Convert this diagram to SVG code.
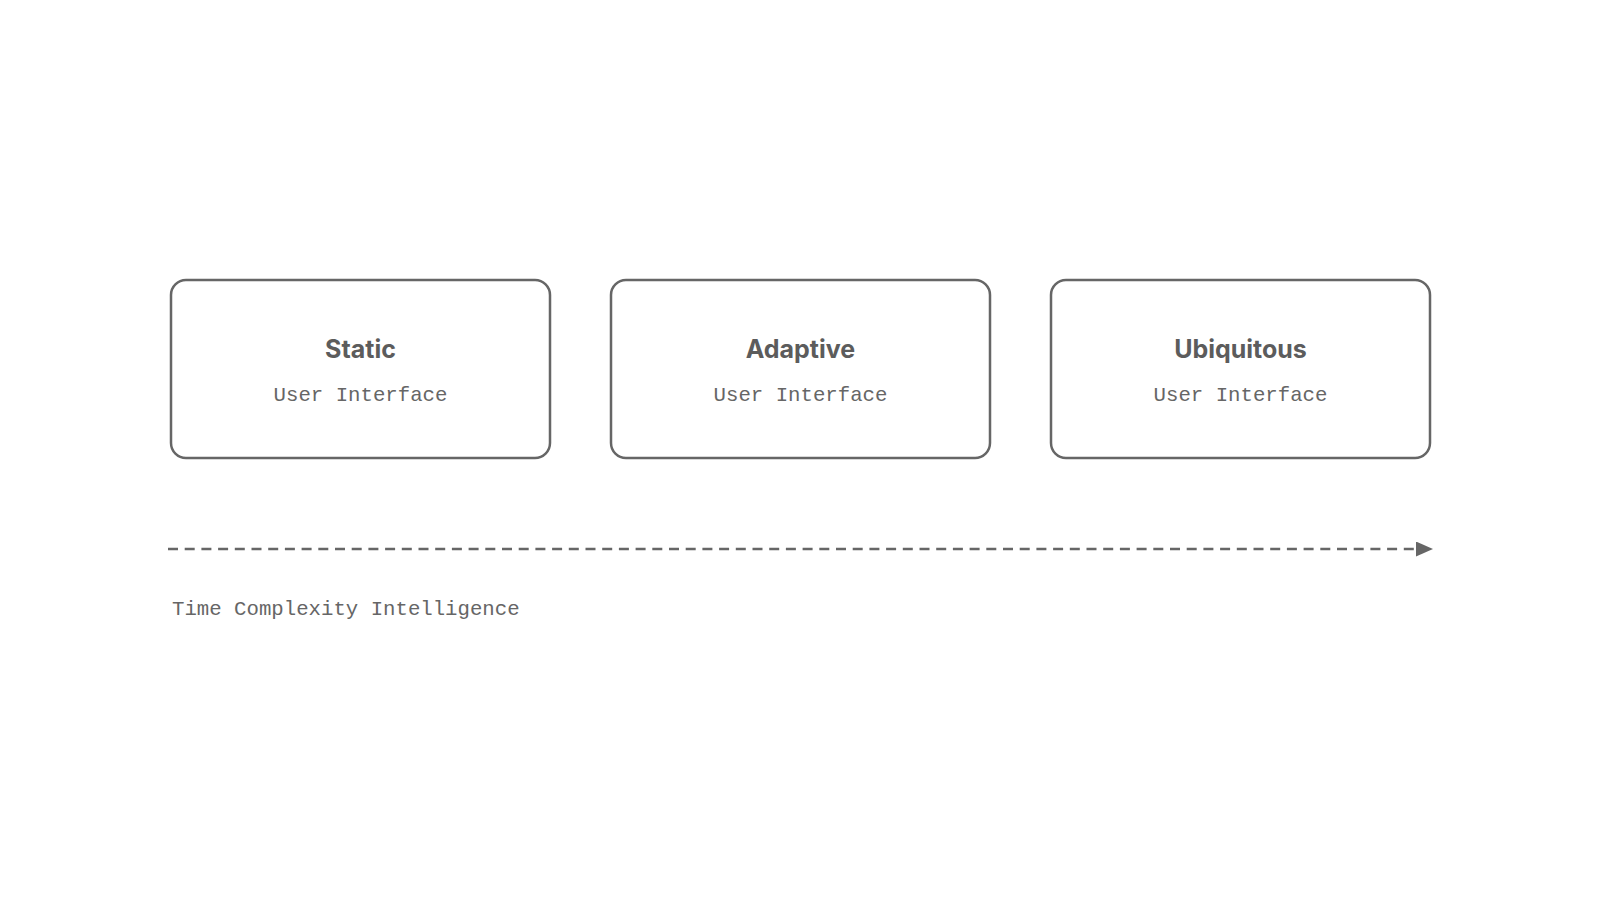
<svg xmlns="http://www.w3.org/2000/svg" width="1600" height="900" viewBox="0 0 1600 900">
<style>
.box{fill:#fff;stroke:#666;stroke-width:2.5}
.title{font-family:Inter,"Liberation Sans",sans-serif;font-weight:700;font-size:25px;fill:#5c5c5c;text-anchor:middle}
.sub{font-family:"Liberation Mono","DejaVu Sans Mono",monospace;font-size:20.7px;fill:#666;text-anchor:middle}
.lab{font-family:"Liberation Mono","DejaVu Sans Mono",monospace;font-size:20.7px;fill:#666}
</style>
<defs>
<marker id="arr" viewBox="0 0 17 15" refX="0" refY="7.5" markerWidth="17" markerHeight="15" markerUnits="userSpaceOnUse" orient="auto"><path d="M0,0L17,7.5L0,15z" fill="#666"/></marker>
</defs>
<rect width="1600" height="900" fill="#fff"/>
<g id="static"><rect class="box" x="171" y="280" width="379" height="178" rx="15"/><text class="title" x="360.5" y="358">Static</text><text class="sub" x="360.5" y="401">User Interface</text></g>
<g id="adaptive"><rect class="box" x="611" y="280" width="379" height="178" rx="15"/><text class="title" x="800.5" y="358">Adaptive</text><text class="sub" x="800.5" y="401">User Interface</text></g>
<g id="ubiquitous"><rect class="box" x="1051" y="280" width="379" height="178" rx="15"/><text class="title" x="1240.5" y="358">Ubiquitous</text><text class="sub" x="1240.5" y="401">User Interface</text></g>
<g id="connectors"><line x1="168" y1="549" x2="1416" y2="549" stroke="#666" stroke-width="2.5" stroke-dasharray="10 6.7" marker-end="url(#arr)"/></g>
<text class="lab" x="172" y="615">Time Complexity Intelligence</text>
</svg>
